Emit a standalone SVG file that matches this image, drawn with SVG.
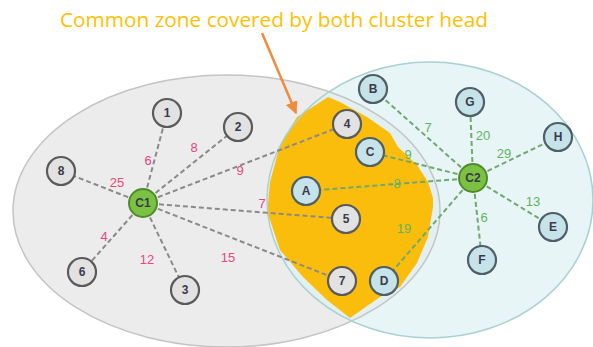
<svg xmlns="http://www.w3.org/2000/svg" width="593" height="347" viewBox="0 0 593 347">
<defs>
<style>
.e1{stroke:#8a8a8a;stroke-width:2;stroke-dasharray:5 3;fill:none}
.e2{stroke:#6fa86f;stroke-width:2;stroke-dasharray:5 3;fill:none}
.ng circle{fill:#e2e2e2;stroke:#5a5a5a;stroke-width:2.2}
.nb circle{fill:#c6e3ea;stroke:#4f5f66;stroke-width:2.2}
.nh circle{fill:#7cc242;stroke:#4f8a2c;stroke-width:2}
.n text{font-family:"Liberation Sans",Arial,sans-serif;font-size:12px;font-weight:bold;fill:#3a3a4a;text-anchor:middle;dominant-baseline:central}
.l1{font-family:"Liberation Sans",Arial,sans-serif;font-size:13px;fill:#e8457e;text-anchor:middle;dominant-baseline:central}
.l2{font-family:"Liberation Sans",Arial,sans-serif;font-size:13px;fill:#5fb35f;text-anchor:middle;dominant-baseline:central}
</style>
<marker id="ah" viewBox="0 0 10 10" refX="9" refY="5" markerWidth="5" markerHeight="5" orient="auto"><path d="M0,0 L10,5 L0,10 z" fill="#f08a3c"/></marker>
</defs>
<rect width="593" height="347" fill="#ffffff"/>
<g id="zones">
<ellipse id="cluster1" cx="226.5" cy="211" rx="213.5" ry="136" fill="#ececec"/>
<ellipse id="cluster2" cx="430" cy="200" rx="163" ry="138" fill="#dff2f3" fill-opacity="0.75"/>
<path id="common-zone" d="M297,117 L328,97 L340,102 L367,117 L390,133 L398,147 L417,165 L428,182 L433,198 L433,207 L428,237 L417,263 L400,287 L380,297 L350,318 L327,300 L303,277 L280,250 L270,220 L267,215 L270,182 L280,145 Z" fill="#fbbd0c"/>
<ellipse cx="226.5" cy="211" rx="213.5" ry="136" fill="none" stroke="#c4c4c4" stroke-width="1.5"/>
<ellipse cx="430" cy="200" rx="163" ry="138" fill="none" stroke="#a9d0d2" stroke-width="1.5"/>
</g>
<g id="connectors">
<line class="e1" x1="143" y1="203" x2="167" y2="113"/>
<line class="e1" x1="143" y1="203" x2="238" y2="127"/>
<line class="e1" x1="143" y1="203" x2="61" y2="171"/>
<line class="e1" x1="143" y1="203" x2="82" y2="272"/>
<line class="e1" x1="143" y1="203" x2="185" y2="290"/>
<line class="e1" x1="143" y1="203" x2="347" y2="124"/>
<line class="e1" x1="143" y1="203" x2="346" y2="219"/>
<line class="e1" x1="143" y1="203" x2="342" y2="281"/>
<line class="e2" x1="473" y1="178" x2="373" y2="89"/>
<line class="e2" x1="473" y1="178" x2="470" y2="102"/>
<line class="e2" x1="473" y1="178" x2="558" y2="137"/>
<line class="e2" x1="473" y1="178" x2="553" y2="227"/>
<line class="e2" x1="473" y1="178" x2="482" y2="260"/>
<line class="e2" x1="473" y1="178" x2="384" y2="281"/>
<line class="e2" x1="473" y1="178" x2="306" y2="191"/>
<line class="e2" x1="473" y1="178" x2="370" y2="152"/>
<line x1="262" y1="33" x2="296" y2="113" stroke="#f08a3c" stroke-width="2.5" marker-end="url(#ah)"/>
</g>
<g id="edge-labels">
<text class="l1" x="148" y="160">6</text>
<text class="l1" x="194" y="147">8</text>
<text class="l1" x="117" y="182">25</text>
<text class="l1" x="240" y="170">9</text>
<text class="l1" x="262" y="203">7</text>
<text class="l1" x="104" y="236">4</text>
<text class="l1" x="147" y="259">12</text>
<text class="l1" x="228" y="257">15</text>
<text class="l2" x="428" y="127">7</text>
<text class="l2" x="408" y="154">9</text>
<text class="l2" x="397" y="183">8</text>
<text class="l2" x="404" y="228">19</text>
<text class="l2" x="483" y="135">20</text>
<text class="l2" x="504" y="153">29</text>
<text class="l2" x="533" y="201">13</text>
<text class="l2" x="484" y="217">6</text>
</g>
<g id="node-1" class="n ng"><circle cx="167" cy="113" r="14"/><text x="167" y="113">1</text></g>
<g id="node-2" class="n ng"><circle cx="238" cy="127" r="14"/><text x="238" y="127">2</text></g>
<g id="node-8" class="n ng"><circle cx="61" cy="171" r="14"/><text x="61" y="171">8</text></g>
<g id="node-6" class="n ng"><circle cx="82" cy="272" r="14"/><text x="82" y="272">6</text></g>
<g id="node-3" class="n ng"><circle cx="185" cy="290" r="14"/><text x="185" y="290">3</text></g>
<g id="node-4" class="n ng"><circle cx="347" cy="124" r="14"/><text x="347" y="124">4</text></g>
<g id="node-5" class="n ng"><circle cx="346" cy="219" r="14"/><text x="346" y="219">5</text></g>
<g id="node-7" class="n ng"><circle cx="342" cy="281" r="14"/><text x="342" y="281">7</text></g>
<g id="node-C1" class="n nh"><circle cx="143" cy="203" r="14"/><text x="143" y="203">C1</text></g>
<g id="node-B" class="n nb"><circle cx="373" cy="89" r="14"/><text x="373" y="89">B</text></g>
<g id="node-G" class="n nb"><circle cx="470" cy="102" r="14"/><text x="470" y="102">G</text></g>
<g id="node-H" class="n nb"><circle cx="558" cy="137" r="14"/><text x="558" y="137">H</text></g>
<g id="node-E" class="n nb"><circle cx="553" cy="227" r="14"/><text x="553" y="227">E</text></g>
<g id="node-F" class="n nb"><circle cx="482" cy="260" r="14"/><text x="482" y="260">F</text></g>
<g id="node-D" class="n nb"><circle cx="384" cy="281" r="14"/><text x="384" y="281">D</text></g>
<g id="node-A" class="n nb"><circle cx="306" cy="191" r="14"/><text x="306" y="191">A</text></g>
<g id="node-C" class="n nb"><circle cx="370" cy="152" r="14"/><text x="370" y="152">C</text></g>
<g id="node-C2" class="n nh"><circle cx="473" cy="178" r="14"/><text x="473" y="178">C2</text></g>
<text id="title" x="60" y="27" font-family="'Open Sans','Liberation Sans',sans-serif" font-size="20" fill="#ffc000" textLength="428" lengthAdjust="spacingAndGlyphs">Common zone covered by both cluster head</text>
</svg>
